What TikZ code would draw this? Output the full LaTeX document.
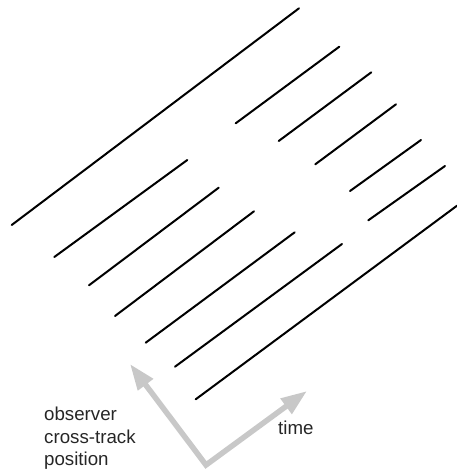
\documentclass[tikz,border=0pt]{standalone}
\usepackage{fontspec}
\setmainfont{Liberation Sans}
\usetikzlibrary{arrows.meta}
\definecolor{axisgray}{RGB}{200,200,200}
\tikzset{
  trk/.style  = {draw=black, line width=2pt, line cap=round},
  axis/.style = {draw=axisgray, line width=5.5pt, line join=miter,
                 {Triangle[length=26pt,width=18pt]}-{Triangle[length=26pt,width=18pt]}},
  lbl/.style  = {inner sep=0pt, align=left, text=black!85,
                 font=\fontsize{18.7}{22.5}\selectfont},
}

\begin{document}
\begin{tikzpicture}[x=1pt, y=-1pt]
    \useasboundingbox (0,0) rectangle (457,472);
    % lange spur
    \draw[trk] (11.7,225) -- (299,8.3);
    % kurze spuren oben rechts
    \foreach \xa/\ya/\xb/\yb in {235.7/123.3/339.3/46.7, 278.7/141/371.3/72.3,
        315.3/164.3/396/104.3, 350/191/421/140, 368.3/220.3/445/166}
      \draw[trk] (\xa,\ya) -- (\xb,\yb);
    % spuren unten links
    \foreach \xa/\ya/\xb/\yb in {54.3/257/187.3/160, 89/285.3/218.7/187.7,
        115/316/254/211.3, 145.7/342.7/294.7/232.3, 175/366.7/342/244,
        195.7/399.3/457/205.7}
      \draw[trk] (\xa,\ya) -- (\xb,\yb);
    % achsen
    \coordinate (up)     at (130,364);
    \coordinate (corner) at (206,465);
    \coordinate (rt)     at (307,391);
    \draw[axis] (up) -- (corner) -- (rt);
    \node[lbl, anchor=north west] (pos) at (44,407) {observer\\cross-track\\position};
    \node[lbl, anchor=base west]  (tm)  at (278,434) {time};
  \end{tikzpicture}
\end{document}
